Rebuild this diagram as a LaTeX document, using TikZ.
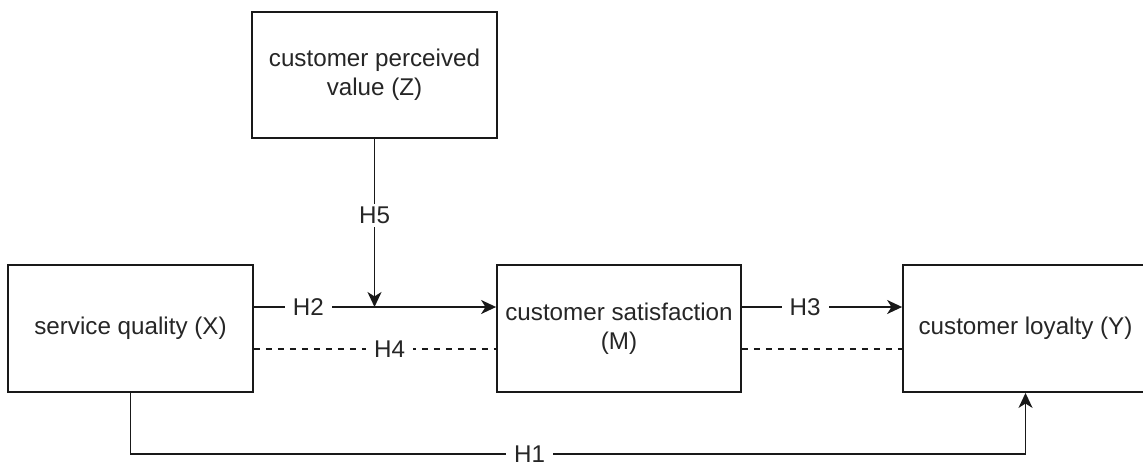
\documentclass[tikz,border=0pt]{standalone}
\usepackage{fontspec}
\setmainfont{Liberation Sans}
\usetikzlibrary{arrows.meta}
\begin{document}
\begin{tikzpicture}[x=0.5pt,y=-0.5pt,
  box/.style={draw=black!90, line width=0.9pt, inner sep=0pt, minimum width=122.5pt, minimum height=63.5pt, align=center, font=\fontsize{12.1}{14.5}\selectfont, text=black!85},
  conn/.style={draw=black!90, line width=0.9pt},
  arr/.style={conn, -{Stealth[length=7.5pt,width=7pt,inset=2.2pt]}},
  dsh/.style={conn, dash pattern=on 3pt off 3pt},
  lab/.style={fill=white, inner xsep=4pt, inner ysep=1.5pt, font=\fontsize{12.1}{14.5}\selectfont, text=black!85}]
\useasboundingbox (0,0) rectangle (1143,466);
\fill[white] (0,0) rectangle (1143,466);
\node[box] (X) at (130.5,328.5) {service quality (X)};
\node[box, minimum height=63pt] (Z) at (374.5,75) {customer perceived\\value (Z)};
\node[box, minimum width=122pt] (M) at (619,328.5) {customer satisfaction\\(M)};
\node[box] (Y) at (1025.5,328.5) {customer loyalty (Y)};
\coordinate (j) at (374.5,307);
\coordinate (d) at (0,349);
\coordinate (b) at (0,454);
\draw[arr] (X.east |- j) -- node[lab,pos=0.225]{H2} (M.west |- j);
\draw[arr] (Z.south) -- node[lab,pos=0.456]{H5} (j);
\draw[dsh] (X.east |- d) -- node[lab,pos=0.56]{H4} (M.west |- d);
\draw[dsh] (M.east |- d) -- (Y.west |- d);
\draw[arr] (M.east |- j) -- node[lab,pos=0.395]{H3} (Y.west |- j);
\draw[arr] (X.south) -- (X.south |- b) -- node[lab,pos=0.446]{H1} (Y.south |- b) -- (Y.south);
\end{tikzpicture}
\end{document}
